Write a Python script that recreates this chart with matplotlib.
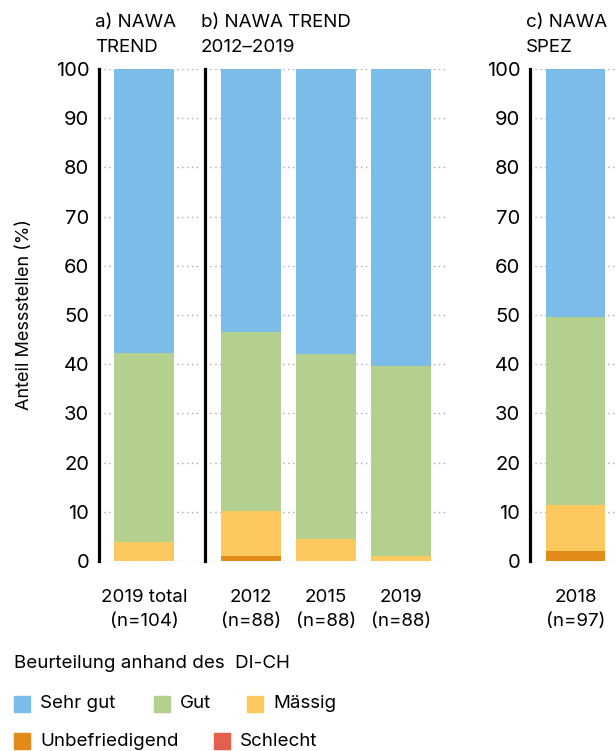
import matplotlib.pyplot as plt
from matplotlib.patches import Rectangle

plt.rcParams['font.family'] = ['Inter', 'DejaVu Sans']

W, H = 616, 751

levels = ['Sehr gut', 'Gut', 'Mässig', 'Unbefriedigend', 'Schlecht']
colors = ['#7bbde8', '#b3d08f', '#fdc95f', '#e38a18', '#e35f50']

# panel a) NAWA TREND, 2019 total
a_labels = ['2019 total\n(n=104)']
a_sehr_gut = [57.7]
a_gut = [38.5]
a_massig = [3.8]
a_unbefr = [0.0]
a_schlecht = [0.0]

# panel b) NAWA TREND 2012-2019
b_labels = ['2012\n(n=88)', '2015\n(n=88)', '2019\n(n=88)']
b_sehr_gut = [53.4, 58.0, 60.2]
b_gut = [36.4, 37.5, 38.6]
b_massig = [9.1, 4.5, 1.1]
b_unbefr = [1.1, 0.0, 0.0]
b_schlecht = [0.0, 0.0, 0.0]

# panel c) NAWA SPEZ
c_labels = ['2018\n(n=97)']
c_sehr_gut = [50.5]
c_gut = [38.1]
c_massig = [9.3]
c_unbefr = [2.1]
c_schlecht = [0.0]


def fx(px):
    return px / W


def fy(py):
    return 1 - py / H


fig = plt.figure(figsize=(W / 100, H / 100), dpi=100)

y_top, y_bot = 69, 561


def panel(left, right, xlim, labels, series, title, show_y=True):
    ax = fig.add_axes([fx(left), fy(y_bot), fx(right - left), (y_bot - y_top) / H])
    x = list(range(len(labels)))
    bottom = [0.0] * len(labels)
    # stack from bottom: Schlecht, Unbefriedigend, Mässig, Gut, Sehr gut
    for vals, col in reversed(list(zip(series, colors))):
        ax.bar(x, vals, bottom=bottom, width=0.8, color=col, zorder=2)
        bottom = [b + v for b, v in zip(bottom, vals)]
    ax.set_xlim(*xlim)
    ax.set_ylim(0, 100)
    ax.set_yticks(range(0, 101, 10))
    ax.set_xticks(x)
    ax.set_xticklabels(labels, fontsize=13.5, linespacing=1.55)
    ax.tick_params(axis='y', length=0, labelsize=14.5, pad=7, labelleft=show_y)
    ax.tick_params(axis='x', length=0, pad=20)
    for s in ['top', 'right', 'bottom']:
        ax.spines[s].set_visible(False)
    ax.spines['left'].set_linewidth(2.3)
    ax.spines['left'].set_color('black')
    ax.spines['left'].set_zorder(3)
    ax.grid(axis='y', color='#aaaaaa', linestyle=(0, (1, 2.5)), linewidth=1.0, zorder=0)
    fig.text(fx(left - 4), fy(14), title, fontsize=13.5, ha='left', va='top', linespacing=1.6)
    return ax


ax_a = panel(99, 198, (-0.6, 0.72), a_labels,
             [a_sehr_gut, a_gut, a_massig, a_unbefr, a_schlecht], 'a) NAWA\nTREND')
ax_a.set_ylabel('Anteil Messstellen (%)', fontsize=13, labelpad=16)

panel(205, 448, (-0.613, 2.63), b_labels,
      [b_sehr_gut, b_gut, b_massig, b_unbefr, b_schlecht], 'b) NAWA TREND\n2012–2019',
      show_y=False)

panel(530, 680, (-0.613, 1.4), c_labels,
      [c_sehr_gut, c_gut, c_massig, c_unbefr, c_schlecht], 'c) NAWA\nSPEZ')

# legend drawn by hand
fig.text(fx(14), fy(664), 'Beurteilung anhand des  DI-CH', fontsize=13.5, va='center', ha='left')
legend_pos = [(14, 704), (154, 704), (247, 704), (14, 741), (214, 741)]
for (lx, ly), name, col in zip(legend_pos, levels, colors):
    fig.add_artist(Rectangle((fx(lx), fy(ly + 8)), fx(16), 16 / H, color=col,
                             transform=fig.transFigure))
    fig.text(fx(lx + 26), fy(ly), name, fontsize=13.5, va='center', ha='left')

fig.savefig('out.png', dpi=100)
